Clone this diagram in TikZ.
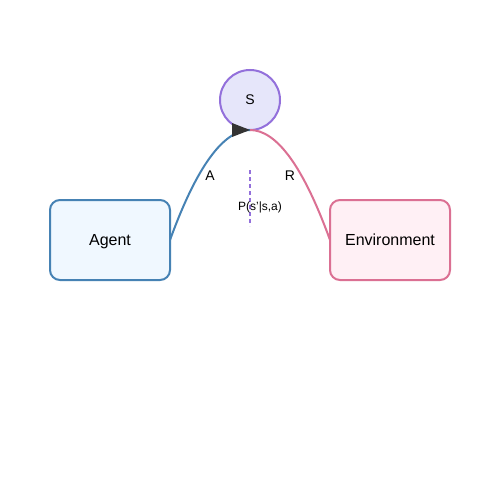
\documentclass[tikz,border=0pt]{standalone}
\usepackage{fontspec}
\setmainfont{Liberation Sans}
\definecolor{agentstroke}{HTML}{4682B4}
\definecolor{agentfill}{HTML}{F0F8FF}
\definecolor{envstroke}{HTML}{DB7093}
\definecolor{envfill}{HTML}{FFF0F5}
\definecolor{statestroke}{HTML}{9370DB}
\definecolor{statefill}{HTML}{E6E6FA}
\definecolor{headfill}{HTML}{333333}
\newcommand\basetext[2]{\raisebox{-#1}[0pt][0pt]{#2}}
\tikzset{
  box/.style={rectangle, rounded corners=10pt, minimum width=120pt, minimum height=80pt, inner sep=0pt, outer sep=0pt, line width=2pt, font=\fontsize{16}{19}\selectfont},
  statenode/.style={circle, minimum size=60pt, inner sep=0pt, outer sep=0pt, line width=2pt, draw=statestroke, fill=statefill, font=\fontsize{14}{17}\selectfont},
  lbl/.style={inner sep=0pt, font=\fontsize{14}{17}\selectfont},
  small/.style={inner sep=0pt, font=\fontsize{12}{14}\selectfont},
  conn/.style={line width=2pt},
  arrowhead/.style={fill=headfill},
}
\begin{document}
\begin{tikzpicture}[x=1pt,y=-1pt]
\useasboundingbox[fill=white] (0,0) rectangle (500,500);
\node[box, draw=agentstroke, fill=agentfill] (agent) at (110,240) {\basetext{5.2pt}{Agent}};
\node[box, draw=envstroke, fill=envfill] (env) at (390,240) {\basetext{5.2pt}{Environment}};
\node[statenode] (s) at (250,100) {\basetext{5pt}{S}};
\coordinate (d1) at (250,170);
\coordinate (d2) at (250,226);
\draw[statestroke, line width=2pt, dash pattern=on 4pt off 3pt] (d1) -- (d2);
\draw[conn, agentstroke] (agent.east) .. controls (196.67,166.67) and (223.33,130) .. (s.south);
\draw[conn, envstroke] (s.south) .. controls (276.67,130) and (303.33,166.67) .. (env.west);
\fill[arrowhead] ([shift={(-18,-7)}]s.south) -- (s.south) -- ([shift={(-18,7)}]s.south) -- cycle;
\node[lbl] (la) at (210,175) {\basetext{5.3pt}{A}};
\node[lbl] (lr) at (290,175) {\basetext{5.3pt}{R}};
\node[small] (lp) at (260,206) {\basetext{4.5pt}{P(s'|s,a)}};
\end{tikzpicture}
\end{document}
